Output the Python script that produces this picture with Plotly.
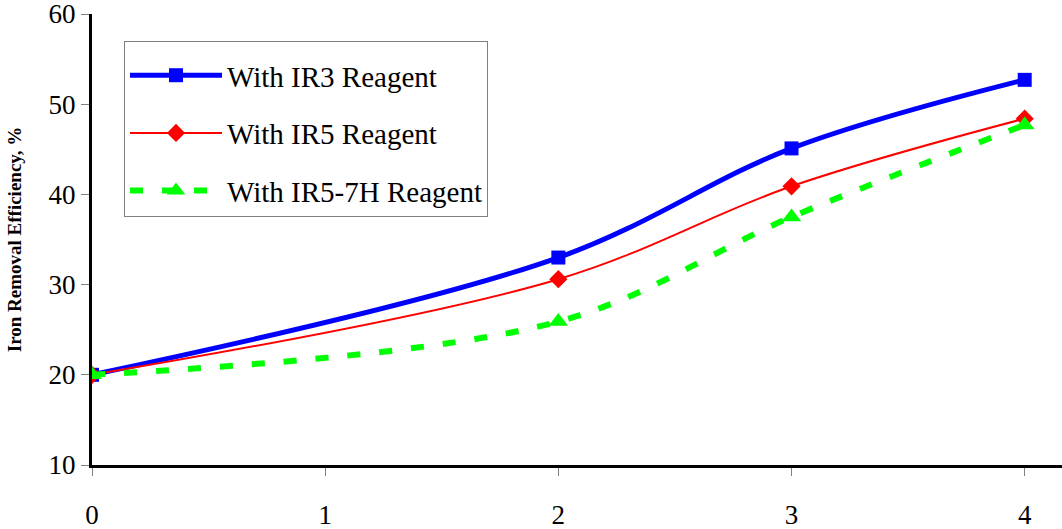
import plotly.graph_objects as go

# Measured iron removal efficiency (%) for each reagent
x_vals = [0, 2, 3, 4]
ir3 = [20.0, 33.0, 45.1, 52.7]
ir5 = [20.0, 30.6, 40.9, 48.4]
ir5_7h = [20.0, 25.9, 37.5, 47.7]

x_ticks = [0, 1, 2, 3, 4]
y_ticks = [10, 20, 30, 40, 50, 60]

series_names = ["With IR3 Reagent", "With IR5 Reagent", "With IR5-7H Reagent"]

serif = "Liberation Serif"

fig = go.Figure()

fig.add_trace(go.Scatter(
    x=x_vals, y=ir3, name=series_names[0], mode="lines+markers",
    line=dict(color="#0000FF", width=5, shape="spline", smoothing=1),
    marker=dict(symbol="square", size=14, color="#0000FF"),
    legendgroup="a",
))
fig.add_trace(go.Scatter(
    x=x_vals, y=ir5, name=series_names[1], mode="lines+markers",
    line=dict(color="#FF0000", width=2, shape="spline", smoothing=1),
    marker=dict(symbol="diamond", size=14, color="#FF0000"),
    legendgroup="b",
))
fig.add_trace(go.Scatter(
    x=x_vals, y=ir5_7h, name=series_names[2], mode="lines+markers",
    line=dict(color="#00FF00", width=6, shape="spline", smoothing=1, dash="13px,19px"),
    marker=dict(symbol="triangle-up", size=17, color="#00FF00"),
    legendgroup="c",
))

fig.update_layout(
    width=1062, height=529,
    margin=dict(l=92, r=0, t=14, b=64),
    paper_bgcolor="white", plot_bgcolor="white",
    font=dict(family=serif, color="black"),
    showlegend=True,
    legend=dict(
        x=0.033, y=0.94, xanchor="left", yanchor="top",
        bgcolor="white", bordercolor="#808080", borderwidth=1,
        font=dict(family=serif, size=29, color="black"),
        title=dict(text=" ", font=dict(size=6)),
        tracegroupgap=17, itemwidth=92,
    ),
    xaxis=dict(
        range=[0, 4.16], tickvals=x_ticks, ticktext=[str(v) for v in x_ticks],
        showgrid=False, zeroline=False, automargin=False,
        showline=True, linecolor="black", linewidth=3,
        ticks="outside", ticklen=8, tickwidth=1, tickcolor="#808080",
        tickfont=dict(family=serif, size=27), ticklabelstandoff=16,
    ),
    yaxis=dict(
        range=[10, 60], tickvals=y_ticks, automargin=False,
        showgrid=False, zeroline=False, ticklabeloverflow="allow",
        showline=True, linecolor="black", linewidth=3,
        ticks="outside", ticklen=8, tickwidth=1, tickcolor="#808080",
        tickfont=dict(family=serif, size=27),
        title=dict(text="<b>Iron Removal Efficiency, %</b>",
                   font=dict(family=serif, size=19), standoff=22),
    ),
)

fig.write_html("out.html")
